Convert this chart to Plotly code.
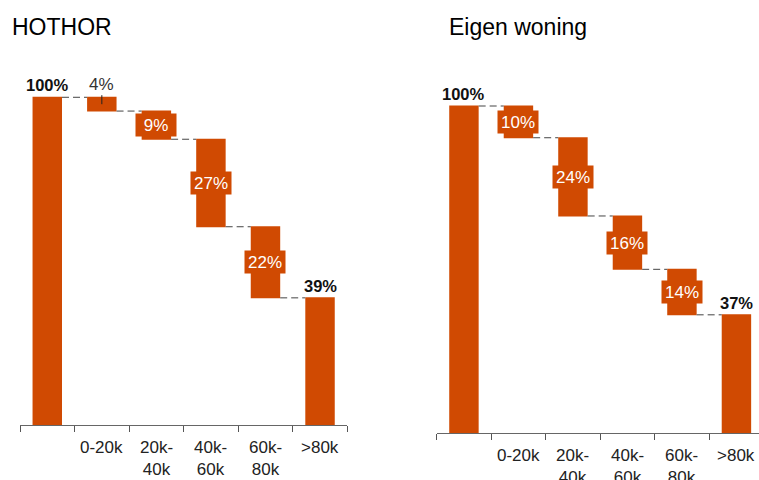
import plotly.graph_objects as go

# ---- data ----
categories = ["start", "0-20k", "20k-40k", "40k-60k", "60k-80k", ">80k"]
tick_labels = ["", "0-20k", "20k-<br>40k", "40k-<br>60k", "60k-<br>80k", ">80k"]
measures = ["absolute", "relative", "relative", "relative", "relative", "total"]

hothor_title = "HOTHOR"
hothor_values = [100, -4.2, -8.6, -26.7, -21.7, 0]
hothor_labels = ["100%", "4%", "9%", "27%", "22%", "39%"]

eigen_title = "Eigen woning"
eigen_values = [100, -9.7, -23.9, -16.3, -13.9, 0]
eigen_labels = ["100%", "10%", "24%", "16%", "14%", "37%"]

ORANGE = "#D04A02"
FONT = "Liberation Sans, Arial, sans-serif"

W, H = 759, 480


def px(x):
    return x / W


def py(y):
    return (H - y) / H


fig = go.Figure()

# (values, labels, x axis, y axis, axis baseline pixel)
panels = [
    (hothor_values, hothor_labels, "x", "y", 425.0),
    (eigen_values, eigen_labels, "x2", "y2", 433.3),
]

annotations = []
for vals, labels, xa, ya, base in panels:
    fig.add_trace(go.Waterfall(
        x=categories, y=vals, measure=measures,
        xaxis=xa, yaxis=ya, width=0.54,
        increasing=dict(marker=dict(color=ORANGE, line=dict(width=0))),
        decreasing=dict(marker=dict(color=ORANGE, line=dict(width=0))),
        totals=dict(marker=dict(color=ORANGE, line=dict(width=0))),
        connector=dict(mode="between", line=dict(color="#444444", width=1, dash="7px,4px")),
        hoverinfo="skip", showlegend=False,
    ))
    level = 0
    for i, (c, v, lab, m) in enumerate(zip(categories, vals, labels, measures)):
        if m in ("absolute", "total"):
            if m == "absolute":
                level = v
            annotations.append(dict(x=c, y=level, xref=xa, yref=ya, text="<b>%s</b>" % lab,
                                    showarrow=False, yanchor="bottom", yshift=1,
                                    font=dict(size=16.5, color="#111111", family=FONT)))
        else:
            mid = level + v / 2
            if abs(v) < 6:
                annotations.append(dict(x=c, y=mid, xref=xa, yref=ya, text=lab,
                                        showarrow=True, arrowhead=0, arrowwidth=1,
                                        arrowcolor="#222222", ax=0, ay=-20,
                                        font=dict(size=17, color="#333333", family=FONT)))
            else:
                annotations.append(dict(x=c, y=mid, xref=xa, yref=ya, text=lab,
                                        showarrow=False, bgcolor=ORANGE, width=40, height=22,
                                        borderpad=0,
                                        font=dict(size=17, color="#FFFFFF", family=FONT)))
            level = level + v
    # category labels below the axis
    for c, t in zip(categories, tick_labels):
        if t:
            annotations.append(dict(x=c, y=py(base + 12), xref=xa, yref="paper", text=t,
                                    showarrow=False, yanchor="top", borderpad=0,
                                    font=dict(size=17, color="#222222", family=FONT)))

annotations.append(dict(x=px(10), y=py(27), xref="paper", yref="paper", text=hothor_title,
                        showarrow=False, xanchor="left", yanchor="middle",
                        font=dict(size=23, color="#000000", family=FONT)))
annotations.append(dict(x=px(447), y=py(27), xref="paper", yref="paper", text=eigen_title,
                        showarrow=False, xanchor="left", yanchor="middle",
                        font=dict(size=23, color="#000000", family=FONT)))

xcommon = dict(type="category", tickmode="array", tickvals=categories, ticktext=tick_labels,
               showticklabels=False,
               tickson="boundaries", ticks="outside", ticklen=6, tickcolor="#555555",
               showline=True, linecolor="#666666", linewidth=1, showgrid=False, zeroline=False,
               fixedrange=True)
ycommon = dict(range=[0, 115], visible=False, showgrid=False, zeroline=False, fixedrange=True)

fig.update_layout(
    width=W, height=H,
    margin=dict(l=0, r=0, t=0, b=0),
    paper_bgcolor="white", plot_bgcolor="white",
    font=dict(family=FONT),
    xaxis=dict(domain=[px(20), px(347.3)], range=[-0.5, 5.5], anchor="y", **xcommon),
    yaxis=dict(domain=[py(425), py(425 - 115 * 3.277)], anchor="x", **ycommon),
    xaxis2=dict(domain=[px(436.7), 1.0], range=[-0.5, 5.414], anchor="y2", **xcommon),
    yaxis2=dict(domain=[py(433.3), py(433.3 - 115 * 3.273)], anchor="x2", **ycommon),
    annotations=annotations,
)

fig.write_html(
    "out.html",
    config={"displayModeBar": False},
    post_script="document.body.style.margin='0';document.body.style.overflow='hidden';",
)
